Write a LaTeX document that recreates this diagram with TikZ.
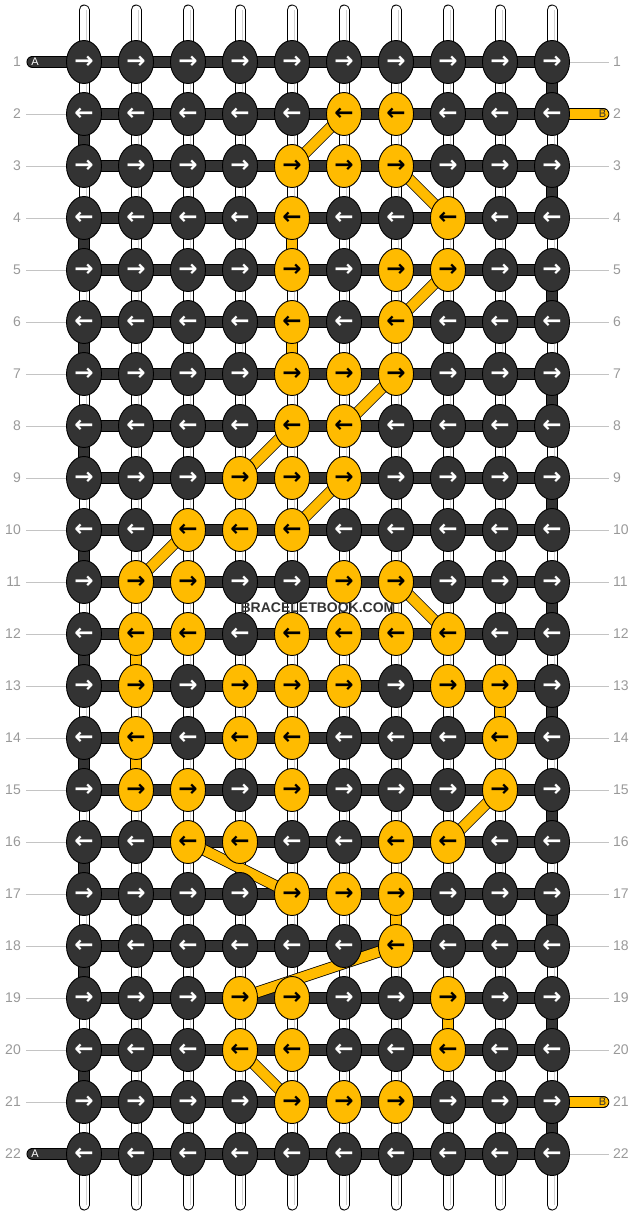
\documentclass[tikz,border=0pt]{standalone}
\usepackage{fontspec}
\setmainfont{Liberation Sans}
\newfontfamily\arrowfont{DejaVu Sans}
\usetikzlibrary{shapes.geometric,backgrounds}

\definecolor{knotdark}{HTML}{333333}
\definecolor{knotyellow}{HTML}{FFBB00}
\definecolor{rowgray}{HTML}{999999}
\definecolor{guidegray}{HTML}{C4C4C4}

\tikzset{
  knot/.style={ellipse, draw=black, line width=0.9pt, minimum width=35pt,
    minimum height=43pt, inner sep=0pt,
    font=\arrowfont\bfseries\fontsize{23}{23}\selectfont},
  darkbar/.style={draw=black, line width=0.8pt, double=knotdark, double distance=10.5pt},
  yellowbar/.style={draw=black, line width=0.8pt, double=knotyellow, double distance=10pt},
  strand/.style={draw=black, line width=11pt, line cap=round,
    postaction={draw=white, line width=9pt, line cap=round}},
  strandline/.style={draw=black!18, line width=0.7pt, double=white, double distance=3.6pt},
  rownum/.style={text=rowgray, font=\fontsize{14}{14}\selectfont, inner sep=0pt},
  guide/.style={draw=guidegray, line width=1pt},
  tag/.style={font=\fontsize{11}{11}\selectfont, inner sep=0pt},
}

\begin{document}
\begin{tikzpicture}[x=1pt,y=-1pt]
  \useasboundingbox (0,0) rectangle (636,1216);

  % yellow knots, row-column
  \foreach \r/\c in {2/6,2/7, 3/5,3/6,3/7, 4/5,4/8, 5/5,5/7,5/8, 6/5,6/7,
      7/5,7/6,7/7, 8/5,8/6, 9/4,9/5,9/6, 10/3,10/4,10/5, 11/2,11/3,11/6,11/7,
      12/2,12/3,12/5,12/6,12/7,12/8, 13/2,13/4,13/5,13/6,13/8,13/9,
      14/2,14/4,14/5,14/9, 15/2,15/3,15/5,15/9, 16/3,16/4,16/7,16/8,
      17/5,17/6,17/7, 18/7, 19/4,19/5,19/8, 20/4,20/5,20/8, 21/5,21/6,21/7}
    {\expandafter\gdef\csname yel-\r-\c\endcsname{}}

  % knots
  \foreach \r in {1,...,22}{
    \foreach \c in {1,...,10}{
      \ifcsname yel-\r-\c\endcsname
        \def\kfill{knotyellow}\def\ktext{black}
      \else
        \def\kfill{knotdark}\def\ktext{white}
      \fi
      \ifodd\r \def\karrow{→}\else \def\karrow{←}\fi
      \node[knot, fill=\kfill, text=\ktext] (k-\r-\c)
        at ({84+52*(\c-1)},{62+52*(\r-1)}) {\karrow};
    }
  }

  % row numbers
  \foreach \r in {1,...,22}{
    \node[rownum, anchor=east] (ln-\r) at (21,{62+52*(\r-1)}) {\r};
    \node[rownum, anchor=west] (rn-\r) at (613,{62+52*(\r-1)}) {\r};
  }
  \foreach \r in {2,...,21}
    \draw[guide, shorten <=5pt] (ln-\r) -- (k-\r-1);
  \foreach \r in {1,3,4,...,20,22}
    \draw[guide, shorten >=4pt] (k-\r-10) -- (rn-\r);

  % thread ends
  \node[tag, text=white] (ta-1) at (35,62) {A};
  \node[tag, text=white] (ta-22) at (35,1154) {A};
  \node[tag, text=knotdark] (tb-2) at (602.5,114) {B};
  \node[tag, text=knotdark] (tb-21) at (602.5,1102) {B};

  \node[font=\bfseries\fontsize{14}{14}\selectfont, text=knotdark] (wm)
    at (318,607.5) {BRACELETBOOK.COM};

  \begin{pgfonlayer}{background}
    % white strands
    \foreach \c in {1,...,10}{
      \coordinate (top-\c) at ({84+52*(\c-1)},10);
      \coordinate (bot-\c) at ({84+52*(\c-1)},1205);
      \draw[strand] (top-\c) -- (bot-\c);
      \draw[strandline] (top-\c) -- (bot-\c);
    }

    % rows
    \foreach \r in {1,...,22}
      \draw[darkbar] (k-\r-1.center) -- (k-\r-10.center);
    \foreach \r in {2,4,...,20}{
      \pgfmathtruncatemacro\s{\r+1}
      \draw[darkbar] (k-\r-1.center) -- (k-\s-1.center);
    }
    \foreach \r in {1,3,...,21}{
      \pgfmathtruncatemacro\s{\r+1}
      \draw[darkbar] (k-\r-10.center) -- (k-\s-10.center);
    }

    \coordinate (aend-1) at (32.5,62);
    \coordinate (aend-22) at (32.5,1154);
    \coordinate (bend-2) at (603.5,114);
    \coordinate (bend-21) at (603.5,1102);
    \draw[darkbar, line cap=round] (aend-1) -- (k-1-1.center);
    \draw[darkbar, line cap=round] (aend-22) -- (k-22-1.center);
    \draw[yellowbar, line cap=round] (k-2-10.center) -- (bend-2);
    \draw[yellowbar, line cap=round] (k-21-10.center) -- (bend-21);

    % yellow thread
    \foreach \a/\b in {2-6/3-5, 3-7/4-8, 5-8/6-7, 7-7/8-6, 8-5/9-4, 9-6/10-5,
        10-3/11-2, 11-7/12-8, 15-9/16-8, 16-3/17-5, 18-7/19-4, 20-4/21-5,
        4-5/5-5, 6-5/7-5, 12-2/13-2, 14-2/15-2, 13-9/14-9, 17-7/18-7, 19-8/20-8}
      \draw[yellowbar] (k-\a.center) -- (k-\b.center);
  \end{pgfonlayer}
\end{tikzpicture}
\end{document}
